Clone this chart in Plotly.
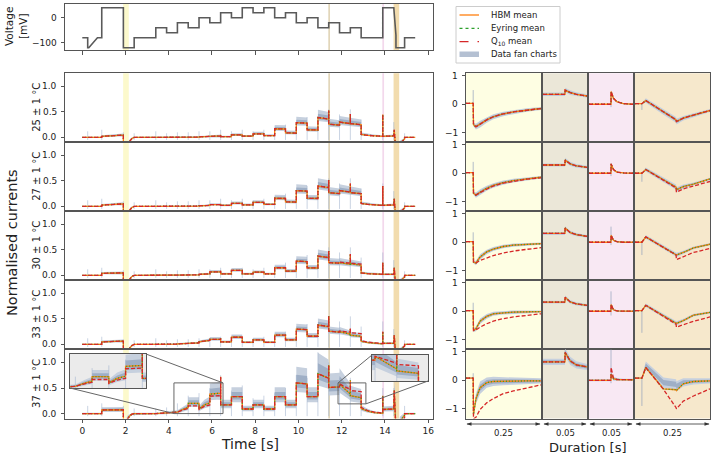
import plotly.graph_objects as go

FONT = "DejaVu Sans"
W, H = 716, 456

# ------------------------------------------------------------------ data
row_labels = ["25 ± 1 °C", "27 ± 1 °C", "30 ± 1 °C", "33 ± 1 °C", "37 ± 1 °C"]

# voltage protocol (staircase)
volt_t = [0, 0.25, 0.25, 0.3, 0.7, 0.9, 0.9, 1.9, 1.9, 2.4,
          2.4, 3.4, 3.4, 3.9, 3.9, 4.4, 4.4, 4.9, 4.9, 5.4,
          5.4, 5.9, 5.9, 6.4, 6.4, 6.9, 6.9, 7.4, 7.4, 7.9,
          7.9, 8.4, 8.4, 8.9, 8.9, 9.4, 9.4, 9.9, 9.9, 10.4,
          10.4, 10.9, 10.9, 11.4, 11.4, 11.9, 11.9, 12.4, 12.4, 12.9,
          12.9, 13.9, 13.9, 14.41, 14.51, 14.51, 14.91, 14.91, 15.4]
volt_v = [-80, -80, -120, -120, -80, -80, 40, 40, -120, -120,
          -80, -80, -40, -40, -60, -60, -20, -20, -40, -40,
          0, 0, -20, -20, 20, 20, 0, 0, 40, 40,
          20, 20, 40, 40, 0, 0, 20, 20, -20, -20,
          0, 0, -40, -40, -20, -20, -60, -60, -40, -40,
          -80, -80, 40, 40, -70, -120, -120, -80, -80]
volt_ticks = [0, -100]

# normalised current, shared time grid
cur_t = [0.0, 0.25, 0.3, 0.7, 0.9,
         0.9, 1.9,
         1.9, 2.0, 2.1, 2.2, 2.3, 2.4,
         3.4,
         3.4, 3.9,
         3.9, 4.4,
         4.4, 4.65, 4.9,
         4.9, 5.4,
         5.4, 5.65, 5.9,
         5.9, 6.4,
         6.4,
         6.4, 6.9,
         6.9, 7.4,
         7.4, 7.9,
         7.9, 8.4,
         8.4, 8.9,
         8.9, 9.4,
         9.4, 9.9,
         9.9, 10.4,
         10.4, 10.9,
         10.9, 11.4,
         11.4,
         11.4, 11.9,
         11.9, 12.4,
         12.4,
         12.4, 12.9,
         12.9, 13.2, 13.5, 13.9,
         13.9,
         13.9, 14.41,
         14.43, 14.51,
         14.51, 14.7, 14.91,
         14.91, 15.4]

hbm_25 = [0, 0, 0, 0, 0,
          0.02, 0.045,
          -0.6, -0.4, -0.18, -0.07, -0.02, 0.0,
          0.0,
          0.0, 0.0,
          0.0, 0.0,
          0.0, 0.003, 0.005,
          0.005, 0.005,
          0.01, 0.015, 0.02,
          0.03, 0.03,
          0.05,
          0.015, 0.015,
          0.05, 0.05,
          0.025, 0.025,
          0.07, 0.07,
          0.035, 0.035,
          0.17, 0.165,
          0.09, 0.085,
          0.29, 0.28,
          0.15, 0.145,
          0.39, 0.36,
          0.53,
          0.26, 0.24,
          0.30, 0.27,
          0.46,
          0.27, 0.25,
          0.06, 0.04, 0.03, 0.02,
          0.45,
          0.02, 0.03,
          0.15, -0.3,
          -0.6, -0.12, -0.03,
          0.0, 0.0]
hbm_27 = [0, 0, 0, 0, 0,
          0.025, 0.05,
          -0.6, -0.4, -0.18, -0.07, -0.02, 0.0,
          0.0,
          0.0, 0.0,
          0.0, 0.0,
          0.0, 0.004, 0.006,
          0.006, 0.006,
          0.01, 0.015, 0.02,
          0.035, 0.035,
          0.05,
          0.02, 0.02,
          0.06, 0.06,
          0.03, 0.03,
          0.08, 0.08,
          0.04, 0.04,
          0.16, 0.155,
          0.09, 0.085,
          0.31, 0.30,
          0.16, 0.155,
          0.40, 0.37,
          0.52,
          0.27, 0.25,
          0.31, 0.28,
          0.45,
          0.27, 0.25,
          0.06, 0.04, 0.03, 0.02,
          0.40,
          0.02, 0.03,
          0.15, -0.3,
          -0.6, -0.12, -0.03,
          0.0, 0.0]
hbm_30 = [0, 0, 0, 0, 0,
          0.04, 0.05,
          -0.6, -0.4, -0.18, -0.07, -0.02, 0.0,
          0.0,
          0.0, 0.0,
          0.0, 0.0,
          0.005, 0.008, 0.01,
          0.01, 0.01,
          0.02, 0.025, 0.03,
          0.07, 0.07,
          0.09,
          0.03, 0.03,
          0.10, 0.10,
          0.03, 0.03,
          0.065, 0.065,
          0.03, 0.03,
          0.15, 0.15,
          0.085, 0.085,
          0.28, 0.27,
          0.15, 0.145,
          0.38, 0.35,
          0.48,
          0.25, 0.24,
          0.25, 0.22,
          0.42,
          0.23, 0.20,
          0.05, 0.035, 0.025, 0.02,
          0.25,
          0.02, 0.02,
          0.15, -0.3,
          -0.6, -0.12, -0.03,
          0.0, 0.0]
q10_30 = [0, 0, 0, 0, 0,
          0.04, 0.05,
          -0.6, -0.4, -0.18, -0.07, -0.02, 0.0,
          0.0,
          0.0, 0.0,
          0.0, 0.0,
          0.005, 0.008, 0.01,
          0.01, 0.01,
          0.02, 0.025, 0.03,
          0.07, 0.07,
          0.09,
          0.03, 0.03,
          0.10, 0.10,
          0.03, 0.03,
          0.065, 0.065,
          0.03, 0.03,
          0.15, 0.15,
          0.085, 0.085,
          0.28, 0.27,
          0.15, 0.145,
          0.38, 0.35,
          0.48,
          0.25, 0.24,
          0.26, 0.24,
          0.42,
          0.24, 0.22,
          0.05, 0.035, 0.025, 0.02,
          0.25,
          0.02, 0.02,
          0.15, -0.3,
          -0.6, -0.12, -0.03,
          0.0, 0.0]
hbm_33 = [0, 0, 0, 0, 0,
          0.05, 0.065,
          -0.6, -0.4, -0.18, -0.07, -0.02, 0.0,
          0.0,
          0.0, 0.002,
          0.005, 0.005,
          0.01, 0.015, 0.02,
          0.03, 0.03,
          0.05, 0.07, 0.08,
          0.10, 0.10,
          0.12,
          0.05, 0.05,
          0.14, 0.14,
          0.04, 0.04,
          0.09, 0.09,
          0.04, 0.04,
          0.18, 0.18,
          0.09, 0.09,
          0.30, 0.29,
          0.16, 0.16,
          0.38, 0.35,
          0.55,
          0.26, 0.24,
          0.25, 0.20,
          0.30,
          0.18, 0.16,
          0.06, 0.035, 0.02, 0.01,
          0.25,
          0.02, 0.02,
          0.18, -0.3,
          -0.6, -0.12, -0.03,
          0.0, 0.0]
q10_33 = [0, 0, 0, 0, 0,
          0.05, 0.065,
          -0.6, -0.4, -0.18, -0.07, -0.02, 0.0,
          0.0,
          0.0, 0.002,
          0.005, 0.005,
          0.01, 0.015, 0.02,
          0.03, 0.03,
          0.05, 0.07, 0.08,
          0.10, 0.10,
          0.12,
          0.05, 0.05,
          0.14, 0.14,
          0.04, 0.04,
          0.09, 0.09,
          0.04, 0.04,
          0.18, 0.18,
          0.09, 0.09,
          0.30, 0.29,
          0.16, 0.16,
          0.38, 0.35,
          0.55,
          0.26, 0.24,
          0.26, 0.24,
          0.32,
          0.23, 0.21,
          0.07, 0.045, 0.03, 0.015,
          0.25,
          0.02, 0.02,
          0.18, -0.3,
          -0.6, -0.12, -0.03,
          0.0, 0.0]
hbm_37 = [0, 0, 0, 0, 0,
          0.07, 0.075,
          -0.7, -0.3, -0.1, -0.04, -0.01, 0.0,
          0.0,
          0.0, 0.01,
          0.02, 0.03,
          0.03, 0.08, 0.12,
          0.20, 0.20,
          0.09, 0.17, 0.21,
          0.38, 0.40,
          0.72,
          0.17, 0.17,
          0.33, 0.33,
          0.09, 0.09,
          0.17, 0.17,
          0.09, 0.09,
          0.33, 0.33,
          0.17, 0.17,
          0.60, 0.58,
          0.33, 0.33,
          0.78, 0.69,
          0.95,
          0.51, 0.52,
          0.58, 0.38,
          0.65,
          0.35, 0.31,
          0.10, 0.05, 0.02, 0.005,
          0.35,
          0.08, 0.09,
          0.45, -0.3,
          -0.8, -0.15, -0.03,
          0.0, 0.0]
q10_37 = [0, 0, 0, 0, 0,
          0.07, 0.075,
          -0.7, -0.3, -0.1, -0.04, -0.01, 0.0,
          0.0,
          0.0, 0.01,
          0.02, 0.03,
          0.03, 0.07, 0.10,
          0.15, 0.15,
          0.08, 0.14, 0.17,
          0.34, 0.35,
          0.72,
          0.17, 0.17,
          0.33, 0.33,
          0.09, 0.09,
          0.17, 0.17,
          0.09, 0.09,
          0.33, 0.33,
          0.17, 0.17,
          0.60, 0.58,
          0.33, 0.33,
          0.78, 0.69,
          0.95,
          0.51, 0.52,
          0.58, 0.47,
          0.62,
          0.45, 0.43,
          0.12, 0.06, 0.03, 0.01,
          0.35,
          0.08, 0.09,
          0.45, -0.3,
          -1.0, -0.3, -0.08,
          0.0, 0.0]

# Eyring mean coincides with HBM mean; Q10 coincides with HBM at 25/27 °C
hbm_rows = [hbm_25, hbm_27, hbm_30, hbm_33, hbm_37]
eyr_rows = [hbm_25, hbm_27, hbm_30, hbm_33, hbm_37]
q10_rows = [hbm_25, hbm_27, q10_30, q10_33, q10_37]
cur_ticks = [0.0, 0.5, 1.0]
cur_ticktext = ["0.0", "0.5", "1.0"]
time_ticks = [0, 2, 4, 6, 8, 10, 12, 14, 16]

# data fan widths (relative above / below mean + absolute)
fan_hi_rel = [0.35, 0.35, 0.30, 0.30, 0.50]
fan_lo_rel = [0.14, 0.14, 0.14, 0.14, 0.27]
fan_abs = [0.014, 0.014, 0.014, 0.014, 0.018]

# faint artefact spikes in the data at voltage steps
trans_t = [0.25, 0.9, 1.9, 2.4, 3.4, 3.9, 4.4, 4.9, 5.4, 5.9, 6.4, 6.9, 7.4, 7.9,
           8.4, 8.9, 9.4, 9.9, 10.4, 10.9, 11.4, 11.9, 12.4, 12.9, 13.9, 14.41, 14.91]
spike_top = [0.12, 0.15, 0.1, 0.08, 0.12, 0.08, 0.1, 0.1, 0.12, 0.12, 0.15, 0.12, 0.15, 0.12,
             0.15, 0.15, 0.25, 0.2, 0.4, 0.3, 0.55, 0.45, 0.55, 0.35, 0.45, 0.3, 0.08]
spike_top_37 = [0.15, 0.2, 0.15, 0.1, 0.1, 0.12, 0.2, 0.35, 0.4, 0.5, 0.75, 0.45, 0.55, 0.3,
                0.35, 0.4, 0.5, 0.75, 0.7, 1.2, 1.0, 0.7, 0.7, 0.35, 0.5, 0.5, 0.15]

# highlighted windows
shade_t0 = [1.89, 11.38, 13.88, 14.40]
shade_t1 = [2.15, 11.46, 13.96, 14.66]
win_dur = [0.25, 0.05, 0.05, 0.25]
dur_labels = ["0.25", "0.05", "0.05", "0.25"]
zoom_ticks = [-1, 0, 1]

# zoomed windows (time from window start)
rt1 = [0, 0.024, 0.025, 0.033, 0.047, 0.069, 0.091, 0.124, 0.158, 0.202, 0.25]
c1_hbm = [[0.03, 0.03, -0.72, -0.79, -0.70, -0.55, -0.44, -0.34, -0.27, -0.20, -0.15],
          [0.02, 0.02, -0.70, -0.77, -0.67, -0.53, -0.43, -0.33, -0.26, -0.19, -0.14],
          [0.02, 0.02, -0.70, -0.73, -0.52, -0.34, -0.24, -0.15, -0.10, -0.07, -0.05],
          [0.02, 0.02, -0.68, -0.62, -0.35, -0.18, -0.09, -0.05, -0.03, -0.02, -0.01],
          [0.08, 0.08, -1.20, -0.65, -0.26, -0.08, -0.04, -0.03, -0.02, -0.02, -0.02]]
c1_q10 = [[0.03, 0.03, -0.72, -0.79, -0.70, -0.55, -0.44, -0.34, -0.27, -0.20, -0.15],
          [0.02, 0.02, -0.70, -0.77, -0.68, -0.55, -0.45, -0.35, -0.28, -0.21, -0.16],
          [0.02, 0.02, -0.70, -0.73, -0.64, -0.55, -0.47, -0.38, -0.31, -0.25, -0.19],
          [0.02, 0.02, -0.68, -0.66, -0.56, -0.44, -0.35, -0.26, -0.20, -0.14, -0.09],
          [0.08, 0.08, -1.35, -1.30, -1.02, -0.79, -0.64, -0.47, -0.37, -0.26, -0.16]]
c1_spread = [0.02, 0.02, 0.06, 0.10, 0.12, 0.10, 0.09, 0.08, 0.07, 0.06, 0.05]

rt2 = [0, 0.025, 0.0251, 0.031, 0.038, 0.05]
c2_hbm = [[0.35, 0.35, 0.50, 0.41, 0.35, 0.29],
          [0.29, 0.29, 0.47, 0.33, 0.26, 0.21],
          [0.31, 0.31, 0.50, 0.34, 0.27, 0.21],
          [0.32, 0.32, 0.49, 0.33, 0.26, 0.21],
          [0.65, 0.65, 0.98, 0.68, 0.54, 0.47]]
c2_q10 = [[0.35, 0.35, 0.50, 0.41, 0.35, 0.29],
          [0.29, 0.29, 0.47, 0.33, 0.26, 0.21],
          [0.31, 0.31, 0.50, 0.34, 0.27, 0.21],
          [0.32, 0.32, 0.49, 0.33, 0.26, 0.21],
          [0.65, 0.65, 0.98, 0.68, 0.54, 0.47]]
c2_spread = [0.06, 0.06, 0.08, 0.08, 0.07, 0.06]

rt3 = [0, 0.025, 0.0251, 0.0278, 0.0316, 0.039, 0.05]
c3_hbm = [[0, 0, 0.45, 0.21, 0.09, 0.02, 0.0],
          [0, 0, 0.33, 0.13, 0.04, 0.01, 0.0],
          [0, 0, 0.25, 0.07, 0.02, 0.0, 0.0],
          [0, 0, 0.24, 0.05, 0.01, 0.0, 0.0],
          [0, 0, 0.22, 0.06, 0.03, 0.02, 0.02]]
c3_q10 = [[0, 0, 0.45, 0.21, 0.09, 0.02, 0.0],
          [0, 0, 0.33, 0.13, 0.04, 0.01, 0.0],
          [0, 0, 0.25, 0.07, 0.02, 0.0, 0.0],
          [0, 0, 0.24, 0.05, 0.01, 0.0, 0.0],
          [0, 0, 0.45, 0.08, 0.03, 0.02, 0.02]]
c3_spread = [0.02, 0.02, 0.05, 0.04, 0.03, 0.02, 0.02]

rt4 = [0, 0.023, 0.036, 0.095, 0.137, 0.138, 0.161, 0.195, 0.25]
c4_hbm = [[0.02, 0.02, 0.13, -0.27, -0.55, -0.61, -0.49, -0.38, -0.22],
          [0.0, 0.0, 0.13, -0.23, -0.49, -0.58, -0.47, -0.38, -0.20],
          [0.0, 0.0, 0.19, -0.17, -0.43, -0.45, -0.36, -0.20, -0.07],
          [0.02, 0.02, 0.21, -0.15, -0.41, -0.43, -0.33, -0.14, -0.04],
          [0.08, 0.08, 0.45, -0.30, -0.33, -0.36, -0.12, -0.04, -0.02]]
c4_q10 = [[0.02, 0.02, 0.13, -0.27, -0.55, -0.61, -0.49, -0.38, -0.22],
          [0.0, 0.0, 0.13, -0.24, -0.52, -0.67, -0.55, -0.45, -0.29],
          [0.0, 0.0, 0.19, -0.18, -0.45, -0.61, -0.50, -0.36, -0.22],
          [0.02, 0.02, 0.21, -0.18, -0.46, -0.56, -0.47, -0.35, -0.20],
          [0.08, 0.08, 0.45, -0.32, -0.96, -1.00, -0.73, -0.55, -0.30]]
c4_spread = [0.02, 0.02, 0.08, 0.10, 0.10, 0.10, 0.08, 0.06, 0.05]
c4_fan_shift_37 = [0, 0, 0.07, 0.22, 0.19, 0.15, 0.05, 0.0, 0.0]

rfan_scale = [1.0, 0.9, 0.8, 0.8, 1.8]
r_spike_t = [0.024, 0.025, 0.025, 0.023]
r_spike_lo = [[0.03, 0.02, 0.02, 0.02, 0.08], [0.35, 0.29, 0.31, 0.32, 0.65],
              [-0.1, -0.1, -0.1, -0.15, -0.1], [-0.2, -0.3, -0.45, -0.76, -0.9]]
r_spike_hi = [[0.5, 0.4, 0.35, 0.3, 0.25], [0.5, 0.47, 0.5, 0.49, 1.05],
              [0.3, 0.35, 0.55, 0.7, 1.09], [0.02, 0.0, 0.0, 0.02, 0.08]]

# insets in the 37 °C panel (data ranges)
inset_xr = [[4.24, 6.51], [11.83, 13.12]]
inset_yr = [[0.0, 0.6], [0.19, 0.6]]

for a in (hbm_25, hbm_27, hbm_30, q10_30, hbm_33, q10_33, hbm_37, q10_37):
    assert len(a) == len(cur_t), len(a)
assert len(volt_t) == len(volt_v)

# ------------------------------------------------------------------ styling
C_HBM, C_EYR, C_Q10 = "#ff7f0e", "#2ca02c", "#d62728"
FAN_OUT, FAN_IN = "#c6d0de", "#9fafc6"
SPIKE_C = "rgba(160,178,205,0.7)"
AXC = "#555555"
TXT = "#222222"
shade_left = ["#fcf9cc", "#e2d6ba", "#f3d8ec", "#f2dcae"]
shade_right = ["#fefee3", "#ebe7d8", "#f8e8f3", "#f6e8cc"]

LEFT_X = (65, 432.7)
ROW_Y = [73.3, 142.3, 211.3, 280.3, 349.3, 418.5]
RIGHT_X = [(466, 541), (543, 587), (589, 633), (635, 710)]
VOLT_Y = (4, 50)
INSET_PX = [((70, 146), (354, 388)), ((372, 428), (355, 381))]
TLIM = [-0.80, 16.21]
VLIM = [-129, 55]
ILIM = [-0.096, 1.257]
RLIM = [-1.34, 1.09]


def fx(p):
    return p / W


def fy(p):
    return 1 - p / H


layout = dict(width=W, height=H, margin=dict(l=0, r=0, t=0, b=0),
              paper_bgcolor="white", plot_bgcolor="white", showlegend=False,
              font=dict(family=FONT, size=9, color=TXT))
shapes, annotations, traces = [], [], []

BASE = dict(showline=True, mirror=True, linecolor=AXC, linewidth=1, showgrid=False,
            zeroline=False, ticks="", showticklabels=False, fixedrange=True)
TICKS = dict(ticks="outside", ticklen=3.5, tickwidth=1, tickcolor=AXC)


def text(s, xp, yp, size, angle=0, xanchor="center", yanchor="middle"):
    annotations.append(dict(text=s, x=fx(xp), y=fy(yp), xref="paper", yref="paper",
                            xanchor=xanchor, yanchor=yanchor, showarrow=False,
                            textangle=angle, font=dict(size=size, family=FONT, color=TXT)))


def names(n):
    s = "" if n == 1 else str(n)
    return "xaxis" + s, "yaxis" + s, "x" + s, "y" + s


def add_axes(n, xpx, ypx, xr, yr, xextra=None, yextra=None):
    xk, yk, xa, ya = names(n)
    xd = dict(BASE, domain=[fx(xpx[0]), fx(xpx[1])], range=xr, anchor=ya)
    yd = dict(BASE, domain=[fy(ypx[1]), fy(ypx[0])], range=yr, anchor=xa)
    if xextra:
        xd.update(xextra)
    if yextra:
        yd.update(yextra)
    layout[xk] = xd
    layout[yk] = yd
    return xa, ya


def ylabels(vals, labels, ypx, yr, xright):
    # tick labels placed just left of the tick marks
    for v, s in zip(vals, labels):
        yy = ypx[1] - (v - yr[0]) / (yr[1] - yr[0]) * (ypx[1] - ypx[0])
        text(s, xright, yy, 9, xanchor="right")


def line(x, y, xa, ya, color, width=1.3, dash=None):
    traces.append(go.Scatter(x=x, y=y, xaxis=xa, yaxis=ya, mode="lines",
                             line=dict(color=color, width=width, dash=dash),
                             hoverinfo="skip"))


def band(x, lo, hi, xa, ya, color):
    traces.append(go.Scatter(x=list(x) + list(x)[::-1], y=list(hi) + list(lo)[::-1],
                             xaxis=xa, yaxis=ya, mode="lines", fill="toself",
                             fillcolor=color, line=dict(width=0), hoverinfo="skip"))


def spikes(ts, los, his, xa, ya, color=SPIKE_C, width=0.8):
    xs, ys = [], []
    for t, a, b in zip(ts, los, his):
        xs += [t, t, None]
        ys += [a, b, None]
    line(xs, ys, xa, ya, color, width)


def models(x, h, e, q, xa, ya):
    line(x, h, xa, ya, C_HBM, 1.3)
    line(x, e, xa, ya, C_EYR, 1.3, "1px,2px")
    line(x, q, xa, ya, C_Q10, 1.3, "4px,2px")


def left_panel(r, xa, ya):
    h = hbm_rows[r]
    keep = [i for i in range(len(cur_t))
            if not (0 < i < len(cur_t) - 1 and cur_t[i - 1] == cur_t[i] == cur_t[i + 1])]
    bt = [cur_t[i] for i in keep]
    bm = [h[i] for i in keep]
    for k, col in ((1.0, FAN_OUT), (0.5, FAN_IN)):
        hi = [v + k * (fan_hi_rel[r] * abs(v) + fan_abs[r]) for v in bm]
        lo = [v - k * (fan_lo_rel[r] * abs(v) + fan_abs[r]) for v in bm]
        band(bt, lo, hi, xa, ya, col)
    tops = spike_top_37 if r == 4 else spike_top
    spikes(trans_t, [-0.05] * len(trans_t), tops, xa, ya)
    models(cur_t, h, eyr_rows[r], q10_rows[r], xa, ya)


# ---------------- voltage panel
xa, ya = add_axes(1, LEFT_X, VOLT_Y, TLIM, VLIM,
                  xextra=dict(TICKS, tickvals=time_ticks),
                  yextra=dict(TICKS, tickvals=volt_ticks))
ylabels(volt_ticks, ["0", "\u2212100"], VOLT_Y, VLIM, 59)
for j in range(4):
    shapes.append(dict(type="rect", xref=xa, yref=ya + " domain", x0=shade_t0[j], x1=shade_t1[j],
                       y0=0, y1=1, fillcolor=shade_left[j], line=dict(width=0), layer="below"))
line(volt_t, volt_v, xa, ya, "#5a5a5a", 1.6)

# ---------------- left current panels
for r in range(5):
    n = 2 + r
    xextra = None
    if r == 4:
        xextra = dict(TICKS, tickvals=time_ticks, showticklabels=True,
                      tickfont=dict(size=9, family=FONT, color=TXT))
    ypx = (ROW_Y[r], ROW_Y[r + 1])
    xa, ya = add_axes(n, LEFT_X, ypx, TLIM, ILIM, xextra=xextra,
                      yextra=dict(TICKS, tickvals=cur_ticks))
    ylabels(cur_ticks, cur_ticktext, ypx, ILIM, 59)
    for j in range(4):
        shapes.append(dict(type="rect", xref=xa, yref=ya + " domain", x0=shade_t0[j],
                           x1=shade_t1[j], y0=0, y1=1, fillcolor=shade_left[j],
                           line=dict(width=0), layer="below"))
    left_panel(r, xa, ya)
    text(row_labels[r], 37, (ROW_Y[r] + ROW_Y[r + 1]) / 2, 10, angle=-90)

# ---------------- right zoomed panels
cols = [(rt1, c1_hbm, c1_q10, c1_spread), (rt2, c2_hbm, c2_q10, c2_spread),
        (rt3, c3_hbm, c3_q10, c3_spread), (rt4, c4_hbm, c4_q10, c4_spread)]
n = 7
for r in range(5):
    for c in range(4):
        ypx = (ROW_Y[r], ROW_Y[r + 1])
        yextra = dict(TICKS, tickvals=zoom_ticks) if c == 0 else None
        xa, ya = add_axes(n, RIGHT_X[c], ypx, [0, win_dur[c]], RLIM, yextra=yextra)
        if c == 0:
            ylabels(zoom_ticks, ["\u22121", "0", "1"], ypx, RLIM, 460)
        shapes.append(dict(type="rect", xref=xa + " domain", yref=ya + " domain", x0=0, x1=1,
                           y0=0, y1=1, fillcolor=shade_right[c], line=dict(width=0),
                           layer="below"))
        rt, hb, qq, sp = cols[c]
        mid = list(hb[r])
        if c == 3 and r == 4:
            mid = [m + s for m, s in zip(mid, c4_fan_shift_37)]
        for k, colr in ((1.0, FAN_OUT), (0.5, FAN_IN)):
            hi = [m + k * s * rfan_scale[r] for m, s in zip(mid, sp)]
            lo = [m - k * s * rfan_scale[r] for m, s in zip(mid, sp)]
            band(rt, lo, hi, xa, ya, colr)
        spikes([r_spike_t[c]], [r_spike_lo[c][r]], [r_spike_hi[c][r]], xa, ya,
               "rgba(150,165,190,0.8)", 0.9)
        models(rt, hb[r], hb[r], qq[r], xa, ya)
        n += 1

# grey strips between zoom columns
for c in range(3):
    shapes.append(dict(type="rect", xref="paper", yref="paper", x0=fx(RIGHT_X[c][1]),
                       x1=fx(RIGHT_X[c + 1][0]), y0=fy(ROW_Y[5]), y1=fy(ROW_Y[0]),
                       fillcolor="#9a9a9a", line=dict(width=0), layer="below"))

# ---------------- insets in 37 °C panel
main_x, main_y = "x6", "y6"


def to_paper_x(v):
    d0, d1 = fx(LEFT_X[0]), fx(LEFT_X[1])
    return d0 + (v - TLIM[0]) / (TLIM[1] - TLIM[0]) * (d1 - d0)


def to_paper_y(v):
    d0, d1 = fy(ROW_Y[5]), fy(ROW_Y[4])
    return d0 + (v - ILIM[0]) / (ILIM[1] - ILIM[0]) * (d1 - d0)


for k in range(2):
    (ix, iy) = INSET_PX[k]
    xa, ya = add_axes(n, ix, iy, inset_xr[k], inset_yr[k])
    xr, yr = inset_xr[k], inset_yr[k]
    traces.append(go.Scatter(x=[xr[0], xr[1], xr[1], xr[0], xr[0]],
                             y=[yr[0], yr[0], yr[1], yr[1], yr[0]], xaxis=xa, yaxis=ya,
                             mode="lines", fill="toself", fillcolor="#ebebeb",
                             line=dict(width=0), hoverinfo="skip"))
    left_panel(4, xa, ya)
    shapes.append(dict(type="rect", xref=main_x, yref=main_y, x0=xr[0], x1=xr[1], y0=yr[0],
                       y1=yr[1], line=dict(color="#666", width=1), layer="above"))
    if k == 0:
        pairs = [((xr[0], yr[0]), (ix[0], iy[1])), ((xr[1], yr[1]), (ix[1], iy[0]))]
    else:
        pairs = [((xr[0], yr[1]), (ix[0], iy[0])), ((xr[1], yr[0]), (ix[1], iy[1]))]
    for (dx, dy), (qx, qy) in pairs:
        shapes.append(dict(type="line", xref="paper", yref="paper", x0=to_paper_x(dx),
                           y0=to_paper_y(dy), x1=fx(qx), y1=fy(qy),
                           line=dict(color="#666", width=1), layer="above"))
    n += 1

# ---------------- legend (drawn manually)
shapes.append(dict(type="rect", xref="paper", yref="paper", x0=fx(456), x1=fx(560), y0=fy(63),
                   y1=fy(6.5), fillcolor="white", line=dict(color="#cccccc", width=1)))
leg = [("HBM mean", C_HBM, "solid", 15), ("Eyring mean", C_EYR, "dot", 28.3),
       ("Q<sub>10</sub> mean", C_Q10, "dash", 41.6)]
for txt, col, dsh, yy in leg:
    shapes.append(dict(type="line", xref="paper", yref="paper", x0=fx(459.5), x1=fx(479),
                       y0=fy(yy), y1=fy(yy), line=dict(color=col, width=1.3, dash=dsh)))
    text(txt, 489, yy, 8.5, xanchor="left")
shapes.append(dict(type="rect", xref="paper", yref="paper", x0=fx(459.5), x1=fx(479),
                   y0=fy(57), y1=fy(51.5), fillcolor="#b4c0d2", line=dict(width=0)))
text("Data fan charts", 489, 54.5, 8.5, xanchor="left")

# ---------------- axis titles and duration markers
text("Voltage<br>[mV]", 16, 27, 10.5, angle=-90)
text("Normalised currents", 12, 243, 14.5, angle=-90)
text("Time [s]", 250, 444, 14)
text("Duration [s]", 588, 447, 13)
AY = 424
for c in range(4):
    x0, x1 = RIGHT_X[c]
    shapes.append(dict(type="line", xref="paper", yref="paper", x0=fx(x0 + 1), x1=fx(x1 - 1),
                       y0=fy(AY), y1=fy(AY), line=dict(color="#333", width=0.8)))
    for tip, sgn in ((x0 + 0.5, 1), (x1 - 0.5, -1)):
        path = "M {:.5f} {:.5f} L {:.5f} {:.5f} L {:.5f} {:.5f} Z".format(
            fx(tip), fy(AY), fx(tip + sgn * 5), fy(AY - 1.8), fx(tip + sgn * 5), fy(AY + 1.8))
        shapes.append(dict(type="path", xref="paper", yref="paper", path=path,
                           fillcolor="#333", line=dict(width=0)))
    text(dur_labels[c], (x0 + x1) / 2, 432.5, 8.5)

layout["shapes"] = shapes
layout["annotations"] = annotations
fig = go.Figure(data=traces, layout=layout)
fig.write_html("out.html", config={"displayModeBar": False},
               post_script="document.body.style.margin='0';document.body.style.padding='0';"
                           "document.body.style.overflow='hidden';")
